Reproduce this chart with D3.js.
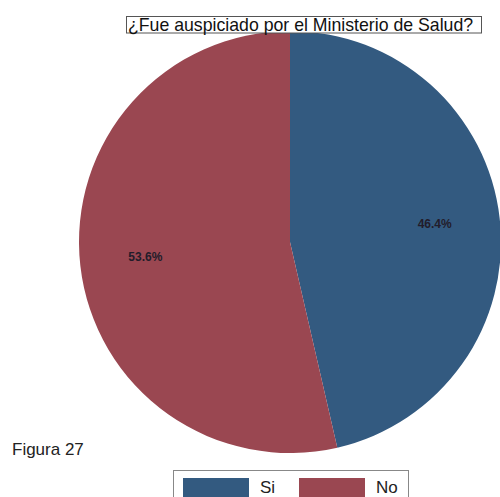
<html lang="es">
<head>
<meta charset="utf-8">
<title>Figura 27</title>
<script src="https://d3js.org/d3.v7.min.js"></script>
<style>
  body { margin: 0; background: #fff; }
  text { font-family: "Liberation Sans", Arial, sans-serif; }
</style>
</head>
<body>
<script>
// data
var categories = ["Si", "No"];
var values = [46.4, 53.6];
var labels = ["46.4%", "53.6%"];
var colors = ["#335a80", "#9a4751"];
var title = "¿Fue auspiciado por el Ministerio de Salud?";

var w = 500, h = 497;
var cx = 290, cy = 242, r = 211;

var svg = d3.select("body").append("svg")
  .attr("width", w).attr("height", h);

var pie = d3.pie().sort(null).value(function(d) { return d; });
var arc = d3.arc().innerRadius(0).outerRadius(r);
var labelArc = d3.arc().innerRadius(r * 0.69).outerRadius(r * 0.69);

var g = svg.append("g").attr("transform", "translate(" + cx + "," + cy + ")");
var arcs = pie(values);

g.selectAll("path")
  .data(arcs)
  .enter().append("path")
  .attr("d", arc)
  .attr("fill", function(d, i) { return colors[i]; });

g.selectAll("text.lbl")
  .data(arcs)
  .enter().append("text")
  .attr("class", "lbl")
  .attr("transform", function(d) { return "translate(" + labelArc.centroid(d) + ")"; })
  .attr("dy", "0.2em")
  .attr("text-anchor", "middle")
  .style("font-size", "12px")
  .style("font-weight", "bold")
  .style("fill", "#221c2a")
  .text(function(d, i) { return labels[i]; });

// title box
svg.append("rect")
  .attr("x", 126.5).attr("y", 16.5)
  .attr("width", 355).attr("height", 16.5)
  .attr("fill", "#fff")
  .attr("stroke", "#555").attr("stroke-width", 1);
svg.append("text")
  .attr("x", 128).attr("y", 30.5)
  .style("font-size", "17.7px")
  .style("fill", "#111")
  .text(title);

svg.append("text")
  .attr("x", 12).attr("y", 455)
  .style("font-size", "17px")
  .style("fill", "#222")
  .text("Figura 27");

// legend
var legend = svg.append("g");
legend.append("rect")
  .attr("x", 173.5).attr("y", 470.5)
  .attr("width", 235).attr("height", 40)
  .attr("fill", "#fff")
  .attr("stroke", "#888").attr("stroke-width", 1);

var legX = d3.scaleOrdinal().domain(categories).range([183, 299]);
var items = legend.selectAll("g.item")
  .data(categories)
  .enter().append("g").attr("class", "item");
items.append("rect")
  .attr("x", function(d) { return legX(d); })
  .attr("y", 478)
  .attr("width", 66).attr("height", 22)
  .attr("fill", function(d, i) { return colors[i]; });
items.append("text")
  .attr("x", function(d) { return legX(d) + 77; })
  .attr("y", 493)
  .style("font-size", "17px")
  .style("fill", "#222")
  .text(function(d) { return d; });
</script>
</body>
</html>
